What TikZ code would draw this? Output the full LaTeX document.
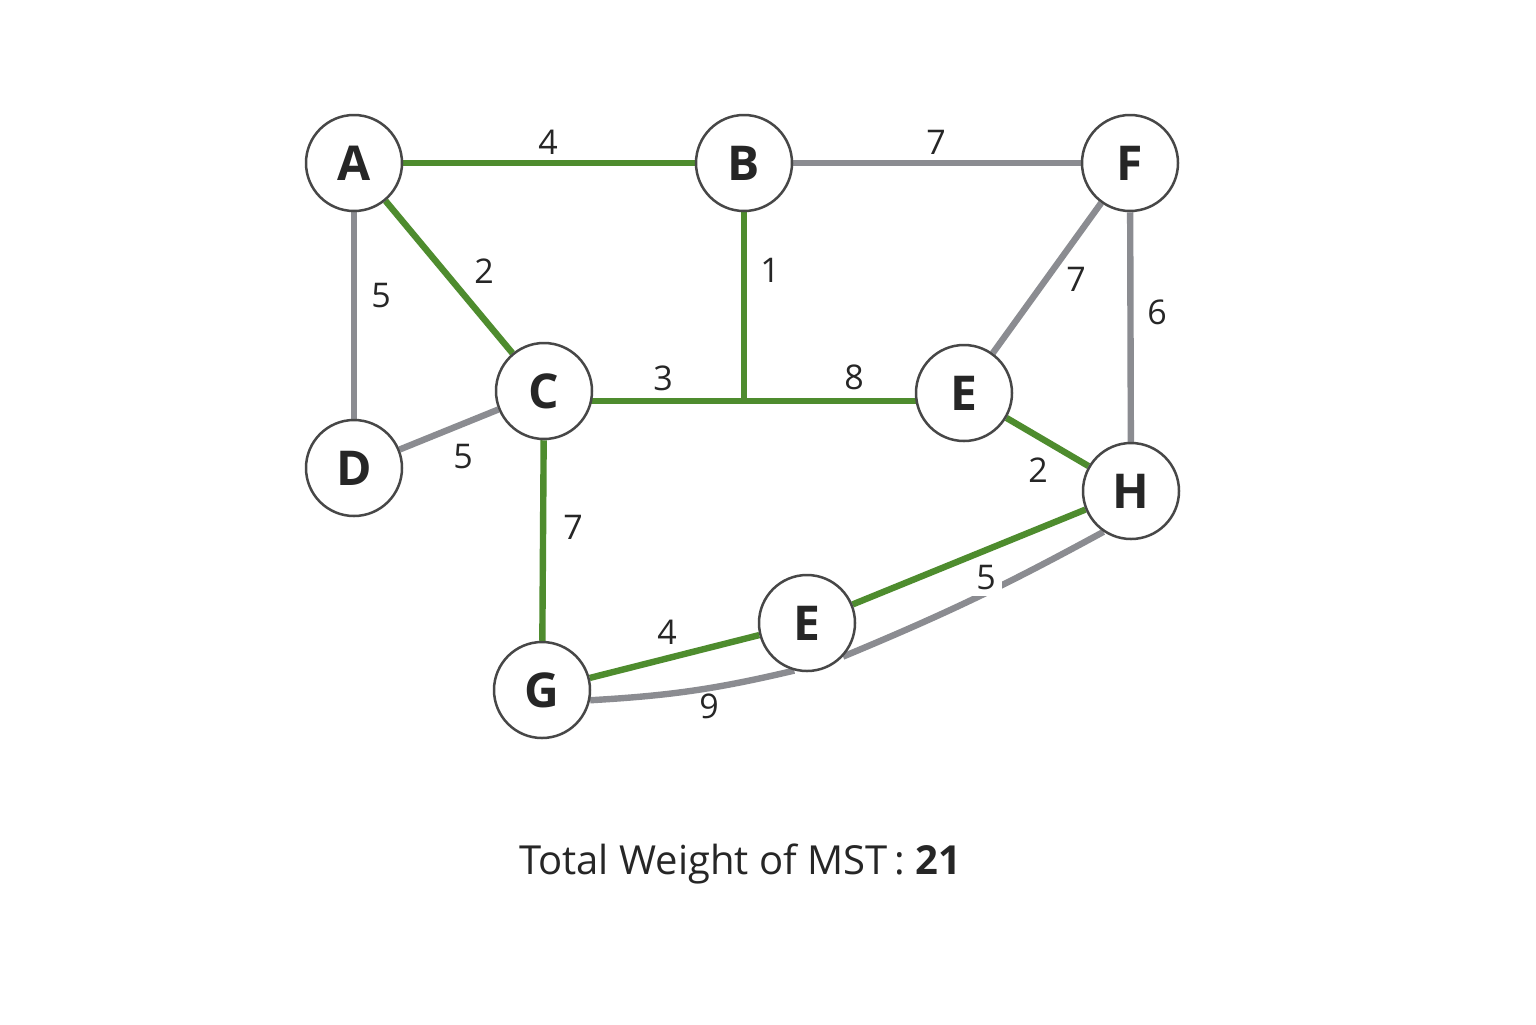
\documentclass[tikz,border=0pt]{standalone}
\usepackage{fontspec}
\setmainfont{Open Sans}
\usetikzlibrary{backgrounds}
\begin{document}
\begin{tikzpicture}[x=0.5pt,y=-0.5pt,
  vtx/.style={circle,draw=black!72,line width=1.25pt,fill=white,minimum size=48pt,inner sep=0pt,font=\bfseries\fontsize{24}{24}\selectfont,text=black!85},
  mst/.style={draw=mstgreen,line width=3.2pt},
  nonmst/.style={draw=edgegray,line width=3.2pt},
  wlab/.style={font=\fontsize{17}{17}\selectfont,text=black!85,inner sep=1pt}]
\definecolor{mstgreen}{HTML}{4E8C2E}
\definecolor{edgegray}{HTML}{8B8C91}
\useasboundingbox (0,0) rectangle (1536,1024);
% vertices
\node[vtx] (A) at (354,163) {A};
\node[vtx] (B) at (744,163) {B};
\node[vtx] (F) at (1130,163) {F};
\node[vtx] (C) at (544,391) {C};
\node[vtx] (E1) at (964,393) {E};
\node[vtx] (D) at (354,468) {D};
\node[vtx] (H) at (1131,491) {H};
\node[vtx] (E2) at (807,623) {E};
\node[vtx] (G) at (542,690) {G};
\coordinate (J) at (744,401);
% edges
\begin{pgfonlayer}{background}
\fill[white] (0,0) rectangle (1536,1024);
\draw[nonmst] (B) -- (F);
\draw[nonmst] (A) -- (D);
\draw[nonmst] (C) -- (D);
\draw[nonmst] (F) -- (E1);
\draw[nonmst] (F) -- (H);
\draw[nonmst] (G.-12) to[bend right=5] (E2.-105);
\draw[nonmst] (E2.-43) to[bend right=3] (H.-124);
\draw[mst] (A) -- (B);
\draw[mst] (A) -- (C);
\draw[mst] (B) -- (J);
\draw[mst] (J) -- (C.center |- J);
\draw[mst] (J) -- (E1.center |- J);
\draw[mst] (E1) -- (H);
\draw[mst] (C) -- (G);
\draw[mst] (G) -- (E2);
\draw[mst] (E2) -- (H);
\end{pgfonlayer}
% weights
\node[wlab] at (548,142) {4};
\node[wlab] at (936,142) {7};
\node[wlab] at (484,271) {2};
\node[wlab] at (381,296) {5};
\node[wlab] at (770,270) {1};
\node[wlab] at (663,378) {3};
\node[wlab] at (854,377) {8};
\node[wlab] at (1076,279) {7};
\node[wlab] at (1157,312) {6};
\node[wlab] at (1038,470) {2};
\node[wlab] at (463,457) {5};
\node[wlab] at (573,527) {7};
\node[wlab] at (667,632) {4};
\node[wlab] at (709,706) {9};
\node[wlab,fill=white,inner sep=3pt] at (986,578) {5};
\node[font=\fontsize{20}{20}\selectfont,text=black!85] (T) at (740,864) {Total Weight of MST\,: \textbf{21}};
\end{tikzpicture}
\end{document}
